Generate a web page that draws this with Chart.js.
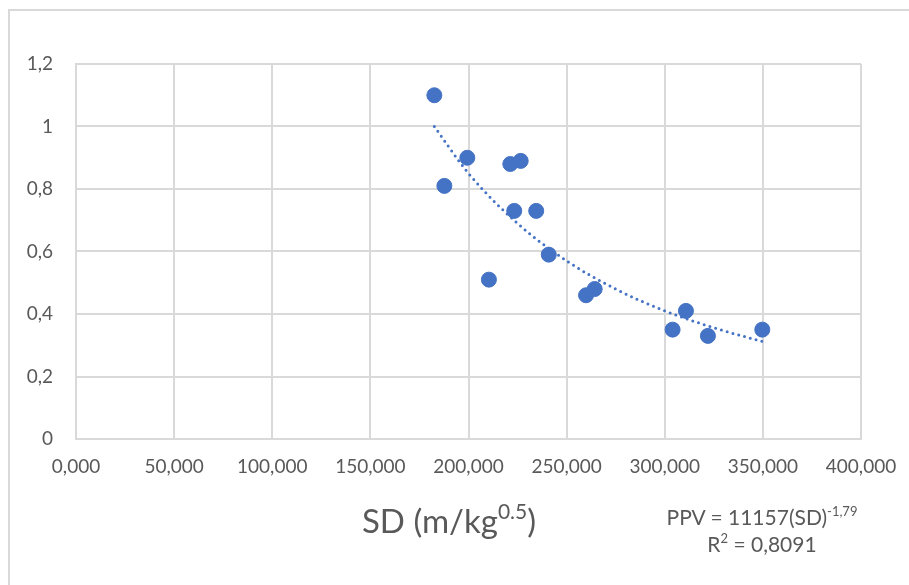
<!DOCTYPE html>
<html>
<head>
<meta charset="utf-8">
<script src="https://cdn.jsdelivr.net/npm/chart.js@4.4.1/dist/chart.umd.min.js"></script>
<style>
    body{ margin:0; background:#fff; }
    #wrap{ position:relative; width:909px; height:585px; overflow:hidden; }
    #frame{ position:absolute; left:8px; top:9px; width:910px; height:590px;
        border-left:2px solid #d9d9d9; border-top:2px solid #d9d9d9; }
    canvas{ position:absolute; left:0; top:0; }
    .txt{ position:absolute; font-family:Lato, sans-serif; color:#595959; text-align:center; white-space:nowrap; }
    #xtitle{ left:249px; width:400px; top:500px; font-size:33px; line-height:40px; }
    #xtitle sup{ font-size:21px; vertical-align:14px; line-height:0; }
    #eq{ left:612px; width:300px; top:503px; font-size:21px; line-height:27px; }
    #eq sup{ font-size:13px; vertical-align:9px; line-height:0; }
</style>
</head>
<body>
<div id="wrap">
    <div id="frame"></div>
    <canvas id="myChart" width="909" height="585"></canvas>
    <div class="txt" id="xtitle">SD (m/kg<sup>0.5</sup>)</div>
    <div class="txt" id="eq">PPV = 11157(SD)<sup>-1,79</sup><br>R<sup>2</sup> = 0,8091</div>
</div>
<script>

//------------------------------- data

var sd_values  = [182.6, 199.4, 187.7, 221.3, 226.6, 223.3, 234.5, 210.4, 240.9, 259.9, 264.3, 304.0, 310.8, 322.0, 349.7];
var ppv_values = [1.10, 0.90, 0.81, 0.88, 0.89, 0.73, 0.73, 0.51, 0.59, 0.46, 0.48, 0.35, 0.41, 0.33, 0.35];

// trend curve
var trend_sd  = [182.6, 200, 225, 250, 275, 300, 325, 349.7];
var trend_ppv = [1.00, 0.85, 0.69, 0.57, 0.48, 0.41, 0.356, 0.312];

var x_ticks = ['0,000','50,000','100,000','150,000','200,000','250,000','300,000','350,000','400,000'];
var y_ticks = ['0','0,2','0,4','0,6','0,8','1','1,2'];

//-------------------------------

function to_points(xs, ys){
    let pts = [];
    for (let i = 0; i < xs.length; i++) {
        pts.push({x: xs[i], y: ys[i]});
    }
    return pts;
}

const blue = '#4472c4';
const grid_col = '#d9d9d9';
const tick_font = { family: 'Lato', size: 19 };

const ctx = document.getElementById('myChart');

const ppv_chart = new Chart(ctx, {
    type: 'scatter',
    data: {
        datasets: [{
            label: 'trend',
            type: 'line',
            data: to_points(trend_sd, trend_ppv),
            borderColor: blue,
            borderWidth: 3,
            borderDash: [0, 6],
            borderCapStyle: 'round',
            cubicInterpolationMode: 'monotone',
            pointRadius: 0,
            fill: false,
            order: 2
        },{
            label: 'PPV',
            data: to_points(sd_values, ppv_values),
            backgroundColor: blue,
            borderColor: blue,
            borderWidth: 1,
            pointRadius: 7.5,
            order: 1
        }]
    },
    options: {
        responsive: false,
        animation: false,
        layout: { padding: { left: 0, right: 48, top: 64, bottom: 0 } },
        plugins: {
            legend: { display: false },
            tooltip: { enabled: false }
        },
        scales: {
            x: {
                type: 'linear',
                min: 0,
                max: 400,
                afterBuildTicks: function(axis){
                    axis.ticks = x_ticks.map(function(t, i){ return { value: i * 50 }; });
                },
                afterFit: function(axis){
                    axis.height = 146;
                    axis.paddingLeft = 0;
                    axis.paddingRight = 0;
                },
                ticks: {
                    color: '#595959',
                    font: tick_font,
                    padding: 16,
                    maxRotation: 0,
                    autoSkip: false,
                    callback: function(v, i){ return x_ticks[i]; }
                },
                grid: { color: grid_col, lineWidth: 2, drawTicks: false },
                border: { color: grid_col, width: 2 }
            },
            y: {
                min: 0,
                max: 1.2,
                afterBuildTicks: function(axis){
                    axis.ticks = y_ticks.map(function(t, i){ return { value: i * 0.2 }; });
                },
                afterFit: function(axis){ axis.width = 76; },
                ticks: {
                    color: '#595959',
                    font: tick_font,
                    padding: 23,
                    autoSkip: false,
                    callback: function(v, i){ return y_ticks[i]; }
                },
                grid: { color: grid_col, lineWidth: 2, drawTicks: false },
                border: { color: grid_col, width: 2 }
            }
        }
    }
});

</script>
</body>
</html>
